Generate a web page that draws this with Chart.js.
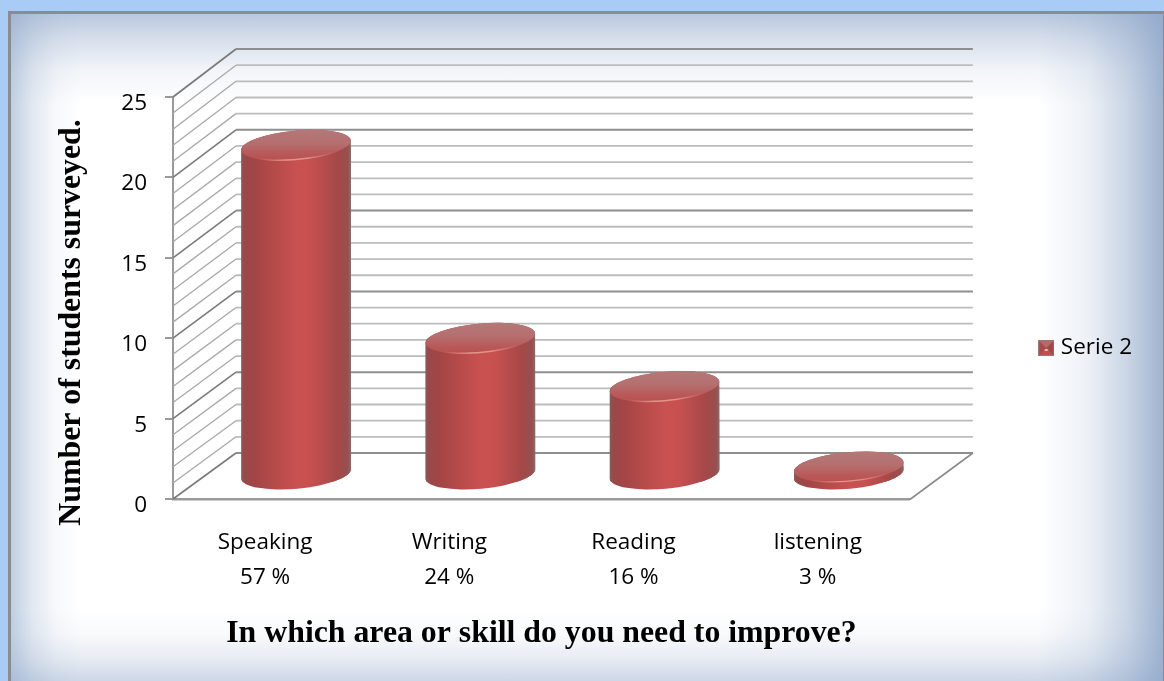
<!DOCTYPE html>
<html><head><meta charset="utf-8">
<script src="https://cdn.jsdelivr.net/npm/chart.js@4"></script>
<style>
html,body{margin:0;padding:0;width:1164px;height:681px;overflow:hidden;background:#a9ccf6}
#frame{position:absolute;left:8px;top:11px;width:1152px;height:680px;border:3px solid #8c8c8c;border-bottom:0;
background:
 linear-gradient(to bottom,rgba(142,166,201,.62),rgba(142,166,201,.36) 25px,rgba(142,166,201,.12) 55px,rgba(142,166,201,0) 90px),
 linear-gradient(to top,rgba(142,166,201,.5) 8px,rgba(142,166,201,.22) 35px,rgba(142,166,201,.06) 60px,rgba(142,166,201,0) 85px),
 linear-gradient(to right,rgba(142,166,201,.55),rgba(142,166,201,.25) 22px,rgba(142,166,201,.07) 45px,rgba(142,166,201,0) 70px),
 linear-gradient(to left,rgba(142,166,201,.85),rgba(142,166,201,.48) 35px,rgba(142,166,201,.16) 75px,rgba(142,166,201,0) 125px),
 #fff}
#wrap{position:absolute;left:0;top:0;width:1164px;height:681px}
</style></head><body>
<div id="frame"></div>
<div id="wrap"><canvas id="c" width="1164" height="681"></canvas></div>
<script>
const categories=[["Speaking","57 %"],["Writing","24 %"],["Reading","16 %"],["listening","3 %"]];
const seriesName="Serie 2";
const values=[21,9,6,1];
const yTicks=[0,5,10,15,20,25];
const xTitle="In which area or skill do you need to improve?";
const yTitle="Number of students surveyed.";

const DX=31, DY=-16, BASEDY=-24, TILT=-0.09, WALLX=63;

function bodyGrad(ctx,L,W,dx){
  const g=ctx.createLinearGradient(L+dx,0,L+dx+W,0);
  g.addColorStop(0,'#8b5a5a');g.addColorStop(.03,'#98494a');g.addColorStop(.14,'#a54545');
  g.addColorStop(.5,'#c95150');g.addColorStop(.62,'#c85150');g.addColorStop(.88,'#a54848');
  g.addColorStop(.97,'#965050');g.addColorStop(1,'#8f6a6a');
  return g;
}
function geo(el){
  const rx=el.width/2, ry=14.7, cx=el.x+DX;
  return {rx,ry,cx,ty:el.y+DY,by:el.base+BASEDY};
}
function silhouette(ctx,g){
  ctx.ellipse(g.cx,g.by,g.rx,g.ry,TILT,0,Math.PI);
  ctx.ellipse(g.cx,g.ty,g.rx,g.ry,TILT,Math.PI,2*Math.PI);
  ctx.closePath();
}
const cylinders={
  id:'cylinders',
  beforeDatasetDraw(chart,args){
    const ctx=chart.ctx, els=chart.getDatasetMeta(args.index).data;
    ctx.save();
    ctx.beginPath();
    els.forEach(el=>{const g=geo(el);ctx.moveTo(g.cx+g.rx,g.by);silhouette(ctx,g);
    });
    ctx.clip();
    els.forEach(el=>{const g=geo(el);ctx.fillStyle=bodyGrad(ctx,g.cx-g.rx,el.width,0);ctx.fillRect(g.cx-g.rx-2,g.ty-20,el.width+4,g.by-g.ty+40);});
    ctx.translate(DX,DY);
  },
  afterDatasetDraw(chart,args){
    const ctx=chart.ctx, els=chart.getDatasetMeta(args.index).data;
    ctx.restore();
    els.forEach(el=>{
      const g=geo(el);
      ctx.save();
      ctx.beginPath();ctx.ellipse(g.cx,g.ty,g.rx,g.ry,TILT,0,2*Math.PI);ctx.clip();
      let v=ctx.createLinearGradient(0,g.ty-g.ry-5,0,g.ty+g.ry+5);
      v.addColorStop(0,'#b57a7a');v.addColorStop(.45,'#b56f6f');v.addColorStop(.72,'#b95858');v.addColorStop(1,'#bb4a4a');
      ctx.fillStyle=v;ctx.fillRect(g.cx-g.rx-2,g.ty-g.ry-8,g.rx*2+4,g.ry*2+16);
      ctx.restore();
      const h=ctx.createLinearGradient(g.cx-g.rx,0,g.cx+g.rx,0);
      h.addColorStop(.15,'rgba(240,170,160,0)');h.addColorStop(.42,'rgba(240,175,160,.75)');h.addColorStop(.6,'rgba(240,175,160,.7)');h.addColorStop(.85,'rgba(240,170,160,0)');
      ctx.strokeStyle=h;ctx.lineWidth=1.4;
      ctx.beginPath();ctx.ellipse(g.cx,g.ty,g.rx-.5,g.ry-.5,TILT,.6,Math.PI-.6);ctx.stroke();
    });
  }
};
const walls={
  id:'walls',
  beforeDatasetsDraw(chart){
    const ctx=chart.ctx,y=chart.scales.y,a=chart.chartArea;
    ctx.save();
    for(let v=0;v<=25;v++){
      const fy=y.getPixelForValue(v), by=fy-46-2*v/25, major=v%5===0;
      ctx.lineWidth=major?2:1.8;
      ctx.strokeStyle=major?'#8e8e8e':'#bcbcbc';
      ctx.beginPath();ctx.moveTo(a.left+WALLX,by);ctx.lineTo(a.right+WALLX,by);ctx.stroke();
      ctx.lineWidth=major?1.6:1.3;
      ctx.strokeStyle=major?'#7a7a7a':'#a8a8a8';
      ctx.beginPath();ctx.moveTo(a.left,fy);ctx.lineTo(a.left+WALLX,by);ctx.stroke();
    }
    const f0=y.getPixelForValue(0);
    ctx.lineWidth=1.6;ctx.strokeStyle='#8a8a8a';
    ctx.beginPath();ctx.moveTo(a.right,f0+.5);ctx.lineTo(a.right+WALLX,f0-46);ctx.stroke();
    ctx.restore();
  },
  afterDraw(chart){
    const ctx=chart.ctx;
    ctx.save();
    ctx.translate(72,322.5);ctx.rotate(-Math.PI/2);
    ctx.font='bold 31.8px "Liberation Serif"';ctx.fillStyle='#000';ctx.textAlign='center';ctx.textBaseline='middle';
    ctx.fillText(yTitle,0,0);
    ctx.restore();
  }
};
function legendIcon(){
  const c=document.createElement('canvas');c.width=c.height=16;const x=c.getContext('2d');
  x.fillStyle='#c24f4e';x.fillRect(0,0,16,16);
  x.fillStyle='#a84a4a';x.beginPath();x.moveTo(0,0);x.lineTo(8,8);x.lineTo(0,16);x.fill();
  x.fillStyle='#a04646';x.beginPath();x.moveTo(16,0);x.lineTo(8,8);x.lineTo(16,16);x.fill();
  x.fillStyle='#b56a6a';x.beginPath();x.moveTo(0,0);x.lineTo(16,0);x.lineTo(8,8);x.fill();
  x.fillStyle='#e9c7c0';x.fillRect(6.5,9,3,2);
  x.strokeStyle='#9b7474';x.lineWidth=1;x.strokeRect(.5,.5,15,15);
  return c;
}
const font={family:'"Open Sans"',size:22.5};
new Chart(document.getElementById('c'),{
  type:'bar',
  data:{labels:categories,datasets:[{
    label:seriesName,data:values,clip:false,
    categoryPercentage:1,barPercentage:.597,
    backgroundColor(c){
      const ch=c.chart,a=ch.chartArea,s=ch.scales.x;
      if(!a||c.dataIndex===undefined)return '#c24f4e';
      const w=(a.right-a.left)/categories.length*.597;
      return bodyGrad(ch.ctx,s.getPixelForValue(c.dataIndex)-w/2,w,0);
    },
    borderWidth:0
  }]},
  options:{
    responsive:false,animation:false,
    layout:{padding:{left:0,top:15,right:22,bottom:0}},
    scales:{
      x:{position:'bottom',grid:{display:false,drawTicks:false},
        border:{display:true,color:'#9a9a9a',width:2.5},
        ticks:{color:'#000',font:{...font,lineHeight:'35px'},padding:26,maxRotation:0,autoSkip:false},
        title:{display:true,text:xTitle,color:'#000',font:{family:'"Liberation Serif"',size:31.8,weight:'bold'},padding:{top:0,bottom:28}},
        afterFit(s){s.height=182;}},
      xTop:{type:'category',position:'top',labels:categories.map(()=>''),display:true,grid:{display:false},border:{display:false},ticks:{display:false},afterFit(s){s.height=82;}},
      y:{min:0,max:25,position:'left',
        grid:{drawOnChartArea:false,drawTicks:true,tickLength:8,color:'#9a9a9a',lineWidth:2},
        border:{display:true,color:'#9a9a9a',width:2},
        ticks:{color:'#000',font:{...font,lineHeight:'13px'},padding:18,stepSize:5,autoSkip:false,callback:v=>yTicks.includes(v)?['',String(v)]:''},
        afterFit(s){s.width=173;}},
      yRight:{type:'linear',position:'right',display:true,min:0,max:1,grid:{display:false},border:{display:false},ticks:{display:false},afterFit(s){s.width=123.2;}}
    },
    plugins:{
      tooltip:{enabled:false},
      legend:{position:'right',labels:{color:'#000',font,padding:10,usePointStyle:true,pointStyleWidth:6.5,
        generateLabels(){return [{text:seriesName,pointStyle:legendIcon(),fontColor:'#000',lineWidth:0,hidden:false,datasetIndex:0}];}}}
    }
  },
  plugins:[walls,cylinders]
});
</script>
</body></html>
